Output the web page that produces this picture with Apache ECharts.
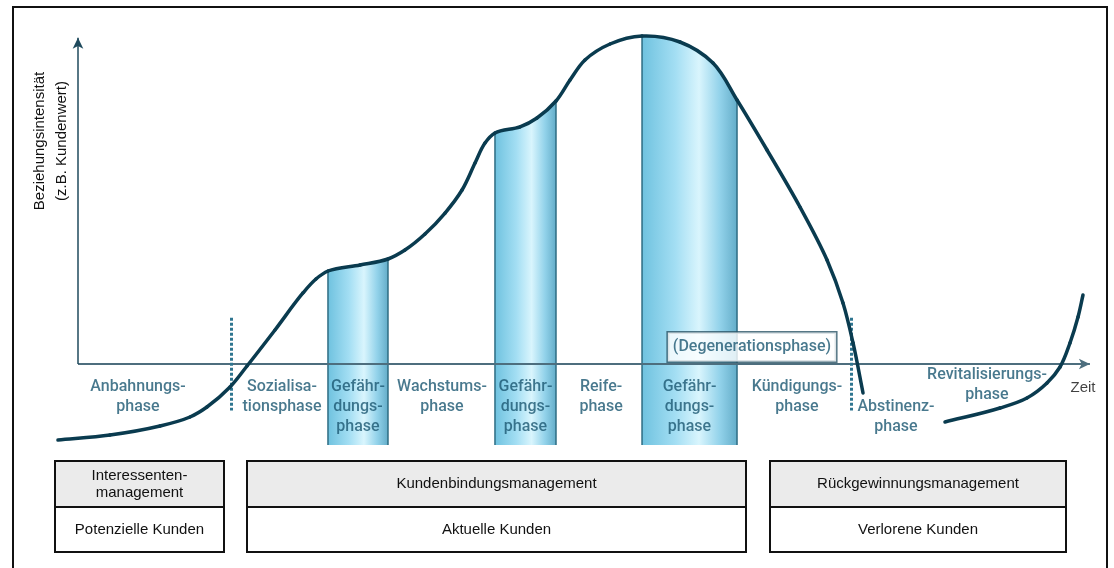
<!DOCTYPE html>
<html>
<head>
<meta charset="utf-8">
<script src="https://cdn.jsdelivr.net/npm/echarts@6/dist/echarts.min.js"></script>
<style>
  html, body { margin: 0; padding: 0; background: #fff; }
  #chart { width: 1114px; height: 568px; }
</style>
</head>
<body>
<div id="chart"></div>
<script>
// Customer relationship life cycle: intensity of the relationship over time.
// x = time (0 = origin of the axes), y = relationship intensity (0 = time axis).

// Main life-cycle curve (acquisition -> termination)
const lifeCycle = [
  [-1.97, -22.89], [3.15, -21.39], [8.06, -18.67], [11.01, -15.96], [12.68, -12.95],
  [14.95, -6.93], [16.62, -0.60], [19.37, 10.24], [22.12, 21.39], [23.40, 25.60],
  [24.58, 28.01], [27.73, 29.82], [30.48, 31.63], [32.15, 34.34], [34.12, 39.16],
  [36.09, 45.48], [37.76, 52.41], [39.04, 60.54], [40.02, 66.57], [41.00, 69.58],
  [43.46, 71.39], [45.13, 74.10], [47.00, 79.22], [48.38, 85.54], [49.85, 91.57],
  [52.31, 96.39], [55.46, 98.80], [59.19, 96.99], [62.44, 90.66], [64.80, 79.52],
  [67.75, 64.46], [70.99, 47.29], [73.65, 31.33], [75.22, 18.37], [76.21, 6.33],
  [77.19, -8.73]
];

// Revitalisation curve (win-back of lost customers)
const revival = [
  [85.25, -17.47], [90.66, -13.25], [93.31, -10.24], [95.28, -5.72],
  [96.56, -0.90], [97.54, 6.33], [98.33, 14.16], [98.82, 20.78]
];

// Endangerment phases (start, end on the time axis)
const dangerBands = [[24.58, 30.48], [41.00, 47.00], [55.46, 64.80]];

// Phase borders drawn as dotted separators
const phaseBorders = [15.04, 76.01];

// Phase names
const phaseNames = [
  'Anbahnungs-\nphase', 'Sozialisa-\ntionsphase', 'Gefähr-\ndungs-\nphase',
  'Wachstums-\nphase', 'Gefähr-\ndungs-\nphase', 'Reife-\nphase',
  'Gefähr-\ndungs-\nphase', 'Kündigungs-\nphase', 'Abstinenz-\nphase',
  'Revitalisierungs-\nphase'
];

// Management areas and customer groups
const managementAreas = ['Interessenten-\nmanagement', 'Kundenbindungsmanagement', 'Rückgewinnungsmanagement'];
const customerGroups = ['Potenzielle Kunden', 'Aktuelle Kunden', 'Verlorene Kunden'];

const axisTitleY = 'Beziehungsintensität\n(z.B. Kundenwert)';
const axisTitleX = 'Zeit';
const degenerationNote = '(Degenerationsphase)';

// ---- layout ----
const bandFloor = -24.4;
const phaseLabelAt = [
  [5.90, -9.94], [20.06, -9.94], null, [35.79, -9.94], null, [51.43, -9.94],
  null, [70.70, -9.94], [80.43, -15.96], [89.38, -6.33]
];
const degenerationAt = [66.27, 5.12];
const zeitAt = [98.82, -7.23];
const boxSpans = [[55, 224], [247, 746], [770, 1066]];

const TEAL = '#1b5872';
const CURVE = '#0a3b4f';

// Gefährdungsphase labels sit at the centre of their band
let b = 0;
const labelPos = phaseLabelAt.map(p => {
  if (p) return p;
  const [a, e] = dangerBands[b++];
  return [(a + e) / 2, -12.95];
});

// ---- smooth curve helpers (cubic Bézier through the projected points) ----
function project(api, pts) { return pts.map(p => api.coord(p)); }
function tangents(P) {
  return P.map((p, i) => {
    let vx = 0, vy = 0;
    if (i > 0) {
      const dx = p[0] - P[i - 1][0], dy = p[1] - P[i - 1][1], d = Math.hypot(dx, dy) || 1;
      vx += dx / d; vy += dy / d;
    }
    if (i < P.length - 1) {
      const dx = P[i + 1][0] - p[0], dy = P[i + 1][1] - p[1], d = Math.hypot(dx, dy) || 1;
      vx += dx / d; vy += dy / d;
    }
    const n = Math.hypot(vx, vy) || 1;
    return [vx / n, vy / n];
  });
}
function segment(P, T, i) {
  const h = Math.hypot(P[i + 1][0] - P[i][0], P[i + 1][1] - P[i][1]) / 3;
  return ' C ' + (P[i][0] + T[i][0] * h) + ' ' + (P[i][1] + T[i][1] * h) + ' ' +
    (P[i + 1][0] - T[i + 1][0] * h) + ' ' + (P[i + 1][1] - T[i + 1][1] * h) + ' ' +
    P[i + 1][0] + ' ' + P[i + 1][1];
}

function curveSeries(pts) {
  return {
    type: 'custom', data: pts, encode: { x: 0, y: 1 }, silent: true, z: 3, clip: false,
    renderItem: (params, api) => {
      const i = params.dataIndex;
      if (i >= pts.length - 1) return null;
      const P = project(api, pts), T = tangents(P);
      return {
        type: 'path',
        shape: { pathData: 'M ' + P[i][0] + ' ' + P[i][1] + segment(P, T, i) },
        style: { fill: 'none', stroke: CURVE, lineWidth: 3.5, lineCap: 'round' }
      };
    }
  };
}

const bandGradient = new echarts.graphic.LinearGradient(0, 0, 1, 0, [
  { offset: 0, color: '#6fc2df' },
  { offset: 0.35, color: '#a3def3' },
  { offset: 0.6, color: '#d9f5fd' },
  { offset: 0.82, color: '#92d2ea' },
  { offset: 1, color: '#64adc9' }
]);

const bandSeries = {
  type: 'custom', data: dangerBands, encode: { x: [0, 1] }, silent: true, z: 1, clip: false,
  renderItem: (params, api) => {
    const [a, e] = dangerBands[params.dataIndex];
    const ia = lifeCycle.findIndex(p => p[0] === a);
    const ie = lifeCycle.findIndex(p => p[0] === e);
    const P = project(api, lifeCycle), T = tangents(P);
    const fa = api.coord([a, bandFloor]), fe = api.coord([e, bandFloor]);
    let d = 'M ' + fa[0] + ' ' + fa[1] + ' L ' + P[ia][0] + ' ' + P[ia][1];
    for (let i = ia; i < ie; i++) d += segment(P, T, i);
    d += ' L ' + fe[0] + ' ' + fe[1] + ' Z';
    const edge = (x1, y1, x2, y2) => ({
      type: 'line', shape: { x1, y1, x2, y2 },
      style: { stroke: '#2d6c83', lineWidth: 1.5 }
    });
    return {
      type: 'group',
      children: [
        { type: 'path', shape: { pathData: d }, style: { fill: bandGradient, stroke: null } },
        edge(fa[0], fa[1], P[ia][0], P[ia][1]),
        edge(fe[0], fe[1], P[ie][0], P[ie][1])
      ]
    };
  }
};

const graphics = [
  {
    type: 'rect', silent: true, z: 100,
    shape: { x: 13, y: 7, width: 1094, height: 600 },
    style: { fill: 'none', stroke: '#111', lineWidth: 2 }
  },
  {
    type: 'text', x: 51, y: 141, rotation: Math.PI / 2, silent: true,
    style: {
      text: axisTitleY, font: '15px "Liberation Sans"', fill: '#111',
      align: 'center', verticalAlign: 'middle', textAlign: 'center', textVerticalAlign: 'middle',
      lineHeight: 22
    }
  }
];
boxSpans.forEach(([x0, x1], i) => {
  const w = x1 - x0, cx = (x0 + x1) / 2;
  graphics.push(
    { type: 'rect', silent: true, shape: { x: x0, y: 461, width: w, height: 46 },
      style: { fill: '#ebebeb', stroke: '#111', lineWidth: 2 } },
    { type: 'rect', silent: true, shape: { x: x0, y: 507, width: w, height: 45 },
      style: { fill: '#ffffff', stroke: '#111', lineWidth: 2 } },
    { type: 'text', silent: true, x: cx, y: 484,
      style: { text: managementAreas[i], font: '15px "Liberation Sans"', fill: '#111',
        align: 'center', verticalAlign: 'middle', textAlign: 'center', textVerticalAlign: 'middle', lineHeight: 17 } },
    { type: 'text', silent: true, x: cx, y: 530,
      style: { text: customerGroups[i], font: '15px "Liberation Sans"', fill: '#111',
        align: 'center', verticalAlign: 'middle', textAlign: 'center', textVerticalAlign: 'middle' } }
  );
});

const chart = echarts.init(document.getElementById('chart'), null, { renderer: 'canvas' });
chart.setOption({
  animation: false,
  backgroundColor: '#ffffff',
  grid: { left: 37.32, right: 19, top: 32, bottom: 123, containLabel: false, outerBoundsMode: 'none' },
  xAxis: { type: 'value', min: -4, max: 100, show: false },
  yAxis: { type: 'value', min: bandFloor, max: 100, show: false },
  graphic: graphics,
  series: [
    bandSeries,
    {
      // axes with arrow heads
      type: 'line', data: [], silent: true, z: 2,
      markLine: {
        silent: true, z: 2,
        symbol: ['none', 'arrow'], symbolSize: [8, 11],
        label: { show: false },
        data: [
          [{ coord: [0, 0], lineStyle: { color: '#4d6e7e', width: 2, type: 'solid' } }, { coord: [99.5, 0] }],
          [{ coord: [0, 0], lineStyle: { color: '#1f4a5d', width: 1.5, type: 'solid' } }, { coord: [0, 98.3] }]
        ]
      }
    },
    {
      // dotted phase separators
      type: 'line', data: [], silent: true, z: 2,
      markLine: {
        silent: true, z: 2, symbol: 'none',
        label: { show: false },
        lineStyle: { color: '#2f7590', width: 3, type: [3, 2] },
        data: phaseBorders.map(x => [{ coord: [x, 13.9] }, { coord: [x, -14.0] }])
      }
    },
    curveSeries(lifeCycle),
    curveSeries(revival),
    {
      type: 'scatter', silent: true, z: 10, symbolSize: 1,
      itemStyle: { color: 'rgba(0,0,0,0)' },
      label: {
        show: true, position: 'inside', color: TEAL, fontWeight: 500,
        fontFamily: 'Roboto', fontSize: 16, lineHeight: 20, align: 'center', verticalAlign: 'middle'
      },
      data: [
        ...phaseNames.map((s, i) => ({ value: labelPos[i], label: { formatter: s } })),
        { value: degenerationAt, label: { formatter: degenerationNote, backgroundColor: '#fff',
          borderColor: '#2c5566', borderWidth: 1.5, padding: [5, 5, 4, 5] } },
        { value: zeitAt, label: { formatter: axisTitleX, color: '#111', fontWeight: 'normal',
          fontFamily: 'Liberation Sans', fontSize: 15 } }
      ]
    }
  ]
});
</script>
</body>
</html>
